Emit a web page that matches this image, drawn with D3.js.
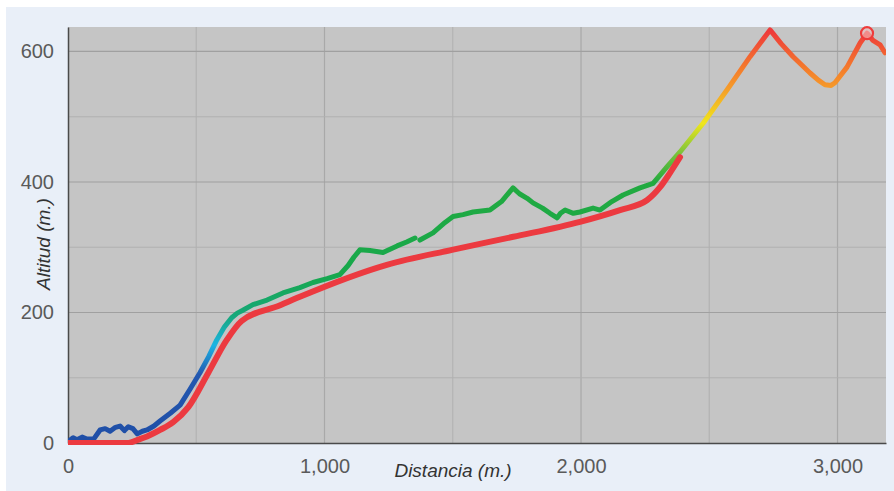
<!DOCTYPE html>
<html>
<head>
<meta charset="utf-8">
<script src="https://cdn.jsdelivr.net/npm/d3@7"></script>
<style>
  html, body { margin: 0; padding: 0; background: #fff; }
  svg { display: block; font-family: Arial, "Liberation Sans", sans-serif; }
</style>
</head>
<body>
<svg id="chart" width="894" height="491"></svg>
<script>
// distance (m) / altitude (m) of the recorded track (coloured by altitude)
const trackDist = [0, 20, 35, 55, 74, 100, 125, 145, 164, 185, 203, 220, 235, 253, 270, 290, 308, 335, 360, 400, 437, 475, 515, 548, 580, 610, 638, 660, 680, 721, 776, 838, 904, 955, 1010, 1060, 1092, 1115, 1138, 1177, 1228, 1283, 1320, 1353];
const trackAlt  = [2, 8, 5, 9, 6, 6, 20, 22, 18, 24, 26, 19, 25, 22, 14, 18, 20, 26, 34, 46, 58, 82, 108, 132, 158, 178, 192, 199, 203, 212, 219, 230, 238, 246, 252, 258, 272, 285, 296, 295, 292, 302, 308, 314];
const trackDist2 = [1372, 1423, 1470, 1501, 1540, 1579, 1645, 1690, 1735, 1760, 1790, 1813, 1850, 1879, 1907, 1920, 1938, 1970, 1996, 2047, 2074, 2120, 2164, 2230, 2281, 2335, 2386, 2476, 2569, 2659, 2737, 2780, 2827, 2893, 2925, 2951, 2975, 2990, 3037, 3088, 3115, 3138, 3166, 3185];
const trackAlt2  = [311, 322, 338, 347, 350, 354, 357, 370, 391, 382, 375, 368, 360, 352, 345, 352, 357, 352, 354, 360, 357, 370, 380, 391, 398, 423, 446, 490, 541, 592, 633, 612, 592, 567, 556, 549, 548, 552, 576, 613, 628, 617, 610, 598];
// planned route profile (red)
const routeDist = [0, 230, 280, 308, 359, 410, 469, 546, 619, 677, 827, 904, 1243, 1497, 1736, 1996, 2152, 2257, 2308, 2347, 2386];
const routeAlt  = [0, 0, 6, 10, 20, 32, 55, 107, 158, 187, 211, 224, 273, 296, 316, 339, 357, 372, 392, 414, 438];
// current position marker
const markerDist = [3115];
const markerAlt = [628];

const xTicks = [0, 1000, 2000, 3000];
const yTicks = [0, 200, 400, 600];
const xGrid = [500, 1000, 1500, 2000, 2500, 3000];
const yGrid = [100, 200, 300, 400, 500, 600];

const W = 894, H = 491;
const plot = { left: 68, right: 886, top: 27, bottom: 443 };

const svg = d3.select('#chart');

// outer panel
svg.append('rect').attr('x', 6).attr('y', 7).attr('width', W - 6).attr('height', H - 7).attr('fill', '#e9eff8');

const x = d3.scaleLinear().domain([0, 3189]).range([plot.left, plot.right]);
const y = d3.scaleLinear().domain([0, 637.5]).range([plot.bottom, plot.top]);

svg.append('rect')
    .attr('x', plot.left).attr('y', plot.top)
    .attr('width', plot.right - plot.left).attr('height', plot.bottom - plot.top)
    .attr('fill', '#c5c5c5');

// grid
svg.append('g').selectAll('line').data(xGrid).join('line')
    .attr('x1', d => x(d)).attr('x2', d => x(d))
    .attr('y1', plot.top).attr('y2', plot.bottom)
    .attr('stroke', d => d % 1000 === 0 ? '#a9a9a9' : '#b3b3b3').attr('stroke-width', 1.2);
svg.append('g').selectAll('line').data(yGrid).join('line')
    .attr('x1', plot.left).attr('x2', plot.right)
    .attr('y1', d => y(d)).attr('y2', d => y(d))
    .attr('stroke', d => d % 200 === 0 ? '#a0a0a0' : '#b0b0b0').attr('stroke-width', 1.2);

// axes
const xAxis = d3.axisBottom(x).tickValues(xTicks).tickSize(0).tickPadding(16).tickFormat(d3.format(','));
const yAxis = d3.axisLeft(y).tickValues(yTicks).tickSize(0).tickPadding(14).tickFormat(d3.format(','));

const gx = svg.append('g').attr('transform', `translate(0,${plot.bottom})`).call(xAxis);
const gy = svg.append('g').attr('transform', `translate(${plot.left},0)`).call(yAxis);
[gx, gy].forEach(g => {
  g.select('.domain').attr('stroke', '#4a4a4a').attr('stroke-width', 1.5);
  g.selectAll('text').attr('fill', '#5a5a5a').style('font-size', '20px');
});

svg.append('text')
    .attr('x', 453).attr('y', 477)
    .attr('text-anchor', 'middle')
    .style('font-size', '19px').style('font-style', 'italic')
    .attr('fill', '#333')
    .text('Distancia (m.)');

svg.append('text')
    .attr('transform', 'translate(50,244) rotate(-90)')
    .attr('text-anchor', 'middle')
    .style('font-size', '19px').style('font-style', 'italic')
    .attr('fill', '#333')
    .text('Altitud (m.)');

// altitude colour gradient for the track
const defs = svg.append('defs');
const grad = defs.append('linearGradient')
    .attr('id', 'altGrad').attr('gradientUnits', 'userSpaceOnUse')
    .attr('x1', 0).attr('x2', 0).attr('y1', y(0)).attr('y2', y(637.5));
const gradStops = [
  [0, '#1f4ea6'], [105, '#2358b0'], [150, '#1cb4e4'], [195, '#17a87a'],
  [260, '#17a84c'], [400, '#22aa40'], [445, '#7cc43a'], [490, '#f0e61c'],
  [545, '#f59a2a'], [575, '#f47a2c'], [630, '#ee3b3b']
];
grad.selectAll('stop').data(gradStops).join('stop')
    .attr('offset', d => d[0] / 637.5)
    .attr('stop-color', d => d[1]);

const clip = defs.append('clipPath').attr('id', 'plotClip');
clip.append('rect').attr('x', plot.left).attr('y', plot.top - 10)
    .attr('width', plot.right - plot.left).attr('height', plot.bottom - plot.top + 12);

const trackLine = d3.line().x(d => x(d[0])).y(d => y(d[1]));
const routeLine = d3.line().x(d => x(d[0])).y(d => y(d[1])).curve(d3.curveMonotoneX);

const lines = svg.append('g').attr('clip-path', 'url(#plotClip)');

[d3.zip(trackDist, trackAlt), d3.zip(trackDist2, trackAlt2)].forEach(seg => {
  lines.append('path')
      .datum(seg)
      .attr('d', trackLine).attr('fill', 'none')
      .attr('stroke', 'url(#altGrad)').attr('stroke-width', 5)
      .attr('stroke-linejoin', 'round').attr('stroke-linecap', 'round');
});

lines.append('path')
    .datum(d3.zip(routeDist, routeAlt))
    .attr('d', routeLine).attr('fill', 'none')
    .attr('stroke', '#ec3a40').attr('stroke-width', 6)
    .attr('stroke-linejoin', 'round').attr('stroke-linecap', 'round');

svg.append('g').selectAll('circle').data(d3.zip(markerDist, markerAlt)).join('circle')
    .attr('cx', d => x(d[0])).attr('cy', d => y(d[1])).attr('r', 6)
    .attr('fill', '#f3c0bf').attr('fill-opacity', 0.6)
    .attr('stroke', '#ee3b3b').attr('stroke-width', 2.2);
</script>
</body>
</html>
